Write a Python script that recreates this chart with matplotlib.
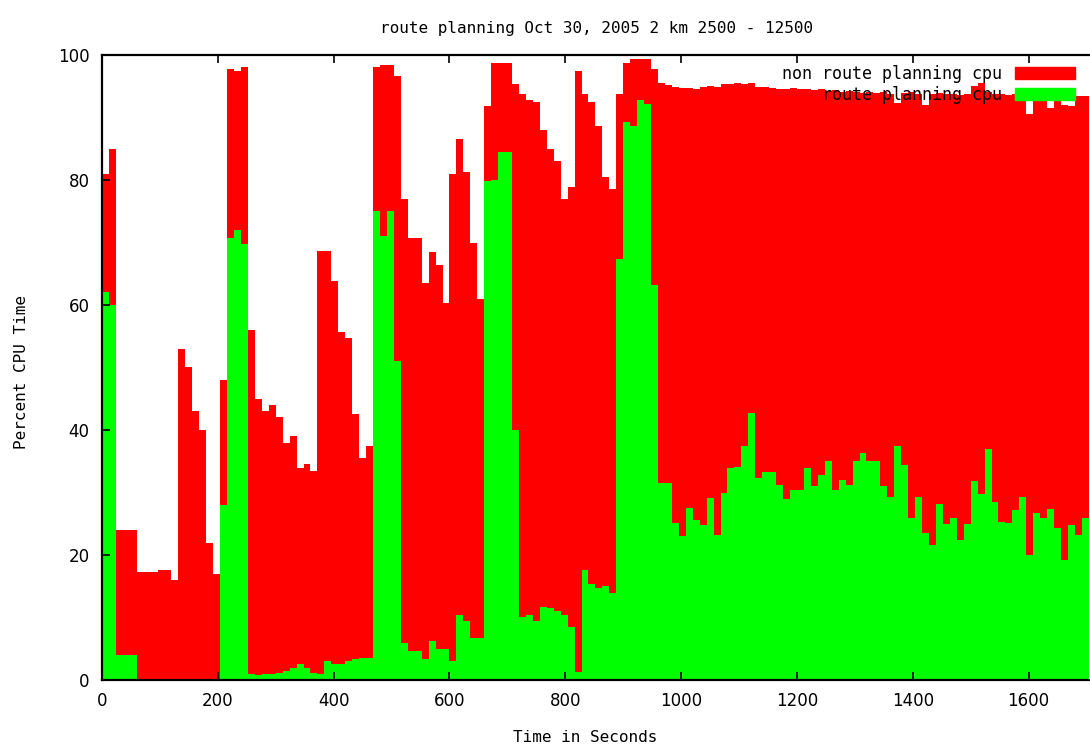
import matplotlib
matplotlib.use("Agg")
import matplotlib.pyplot as plt
from matplotlib.patches import Patch
import numpy as np

# one sample every 12 seconds
step = 12

# total cpu (route + non route), percent
total_cpu = [
    81, 85, 24, 24, 24, 17.3, 17.3, 17.3, 17.6, 17.6,
    16, 53, 50, 43, 40, 22, 17, 48, 97.7, 97.5,
    98, 56, 45, 43, 44, 42, 38, 39, 34, 34.5,
    33.5, 68.7, 68.7, 63.8, 55.7, 54.7, 42.6, 35.5, 37.5, 98,
    98.4, 98.4, 96.7, 76.9, 70.7, 70.7, 63.5, 68.4, 66.4, 60.3,
    81, 86.6, 81.3, 69.9, 60.9, 91.9, 98.7, 98.7, 98.7, 95.4,
    93.8, 92.8, 92.5, 88, 85, 83, 76.9, 78.8, 97.4, 93.8,
    92.5, 88.6, 80.5, 78.5, 93.8, 98.7, 99.3, 99.3, 99.3, 97.7,
    95.5, 95.2, 94.9, 94.7, 94.7, 94.6, 94.8, 95, 94.9, 95.3,
    95.3, 95.5, 95.4, 95.5, 94.8, 94.8, 94.7, 94.6, 94.5, 94.7,
    94.5, 94.6, 94.4, 94.5, 94.3, 94.4, 94.1, 94.3, 94.1, 93.9,
    94.1, 93.9, 94, 93.8, 92.3, 93.9, 94, 93.7, 92, 93.8,
    93.9, 93.7, 93.8, 93.6, 93.8, 95, 95.5, 94, 93.7, 93.8,
    93.6, 93.7, 93.5, 90.5, 93.6, 93.5, 91.5, 93.5, 92, 91.8,
    93.4, 93.5,
]

# route planning cpu, percent
route_cpu = [
    62, 60, 4, 4, 4, 0, 0, 0, 0, 0,
    0, 0, 0, 0, 0, 0, 0, 28, 70.7, 72,
    69.7, 1, 0.8, 1, 1, 1.2, 1.5, 2, 2.5, 2,
    1.2, 1, 3, 2.5, 2.5, 3, 3.3, 3.5, 3.5, 75,
    71, 75, 51, 5.9, 4.6, 4.6, 3.3, 6.2, 4.9, 4.9,
    3, 10.4, 9.4, 6.8, 6.8, 79.8, 80, 84.4, 84.4, 40,
    10.1, 10.4, 9.4, 11.7, 11.5, 11, 10.4, 8.5, 1.3, 17.6,
    15.3, 14.7, 15, 14, 67.4, 89.2, 88.6, 92.8, 92.2, 63.2,
    31.5, 31.5, 25.1, 23, 27.5, 25.6, 24.8, 29.1, 23.2, 29.9,
    34, 34.1, 37.4, 42.7, 32.3, 33.3, 33.3, 31.2, 29, 30.4,
    30.4, 33.9, 31, 32.8, 35.1, 30.4, 32, 31.2, 35.1, 36.4,
    35, 35.1, 31, 29.3, 37.4, 34.4, 25.9, 29.3, 23.5, 21.6,
    28.2, 24.9, 25.9, 22.4, 24.9, 31.8, 29.8, 36.9, 28.5, 25.3,
    25.1, 27.2, 29.3, 20, 26.7, 26, 27.3, 24.3, 19.2, 24.8,
    23.2, 25.9,
]

times = np.arange(len(total_cpu)) * step

x_ticks = [0, 200, 400, 600, 800, 1000, 1200, 1400, 1600]
y_ticks = [0, 20, 40, 60, 80, 100]

mono = ["DejaVu Sans Mono"]

fig = plt.figure(figsize=(10.9, 7.5), dpi=100)
ax = fig.add_axes([102 / 1090, 70 / 750, 988 / 1090, 625 / 750])

ax.bar(times, total_cpu, width=step, align="edge", color="#ff0000", linewidth=0)
ax.bar(times, route_cpu, width=step, align="edge", color="#00ff00", linewidth=0)

ax.set_xlim(0, 1706)
ax.set_ylim(0, 100)
ax.set_xticks(x_ticks)
ax.set_yticks(y_ticks)
ax.tick_params(direction="in", length=6, width=1.2, top=True, right=False,
               labelsize=12, pad=9, colors="black")
for s in ["left", "top", "bottom"]:
    ax.spines[s].set_linewidth(1.6)
ax.spines["right"].set_visible(False)

handles = [Patch(color="#ff0000"), Patch(color="#00ff00")]
ax.legend(handles, ["non route planning cpu", "route planning cpu"],
          loc="upper right", bbox_to_anchor=(0.995, 1.0), frameon=False,
          markerfirst=False, prop={"family": mono, "size": 12},
          handlelength=3.6, handleheight=0.7, labelspacing=0.15,
          borderaxespad=0.2, handletextpad=0.8)

fig.text(597 / 1090, 1 - 28 / 750, "route planning Oct 30, 2005 2 km 2500 - 12500",
         ha="center", va="center", family=mono, fontsize=11.5)
fig.text(585 / 1090, 1 - 738 / 750, "Time in Seconds",
         ha="center", va="center", family=mono, fontsize=11.5)
fig.text(22 / 1090, 1 - 372 / 750, "Percent CPU Time", rotation=90,
         ha="center", va="center", family=mono, fontsize=11.5)

fig.savefig("out.png", dpi=100)
